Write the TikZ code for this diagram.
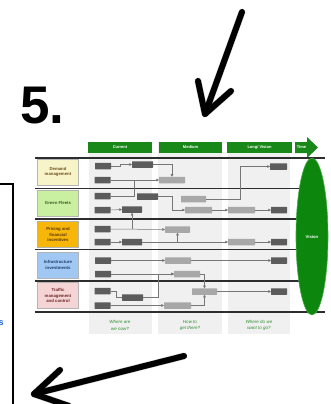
\documentclass[tikz,border=0pt]{standalone}
\usepackage{fontspec}
\setmainfont{Liberation Sans}
\usetikzlibrary{arrows.meta,calc,shapes.geometric}

\definecolor{hdrgreen}{RGB}{24,136,24}
\definecolor{visgreen}{RGB}{12,134,12}
\definecolor{visedge}{RGB}{70,170,70}
\definecolor{darkbox}{RGB}{92,92,92}
\definecolor{lightbox}{RGB}{168,168,168}
\definecolor{linegray}{RGB}{118,118,118}
\definecolor{sepgray}{RGB}{45,45,45}
\definecolor{bandgray}{RGB}{240,240,240}
\definecolor{qgreen}{RGB}{40,140,40}
\definecolor{lblborder}{RGB}{180,180,180}
\definecolor{rowyellow}{RGB}{248,244,202}
\definecolor{rowgreen}{RGB}{200,240,160}
\definecolor{roworange}{RGB}{246,182,10}
\definecolor{rowblue}{RGB}{160,200,242}
\definecolor{rowpink}{RGB}{244,212,212}
\definecolor{txtbrown}{RGB}{110,78,30}
\definecolor{txtgreen}{RGB}{60,95,40}
\definecolor{txtorange}{RGB}{95,55,0}
\definecolor{txtblue}{RGB}{30,60,110}
\definecolor{txtred}{RGB}{110,40,40}
\definecolor{sblue}{RGB}{35,100,205}

\tikzset{
  dk/.style={fill=darkbox, draw=none, minimum height=6.5pt, inner sep=0pt, outer sep=0pt, rounded corners=0.4pt},
  lt/.style={fill=lightbox, draw=none, minimum height=6.5pt, inner sep=0pt, outer sep=0pt, rounded corners=0.4pt},
  conn/.style={draw=linegray, line width=0.5pt},
  arr/.style={conn, -{Triangle[length=2.6pt,width=2.6pt]}},
  sepline/.style={draw=sepgray, line width=1.4pt},
  rowlbl/.style={draw=lblborder, line width=0.6pt, minimum width=41pt, minimum height=26pt,
    inner sep=0pt, align=center, font=\fontsize{4.3}{5.2}\selectfont\bfseries},
  hdr/.style={fill=hdrgreen, minimum width=64pt, minimum height=11pt, inner sep=0pt,
    text=white, font=\fontsize{4}{5}\selectfont\bfseries},
  band/.style={fill=bandgray, draw=none},
  question/.style={text=qgreen, align=center, font=\fontsize{4.5}{6.6}\selectfont\itshape},
  bigarrow/.style={line width=6pt, line cap=round, line join=round, draw=black},
  bigshadow/.style={line width=7pt, line cap=round, line join=round, draw=black, opacity=0.18}
}

\begin{document}
\begin{tikzpicture}[x=1pt, y=-1pt]
\useasboundingbox (0,0) rectangle (331,404);

% column bands
\path[band] (89,142) rectangle (152,334);
\path[band] (158,142) rectangle (222,334);
\path[band] (228,142) rectangle (290,334);

% column headers and the time arrow
\node[hdr] (hcur) at (120,147.5) {Current};
\node[hdr, minimum width=63pt] (hmed) at (190.5,147.5) {Medium};
\node[hdr, minimum width=65pt] (hlong) at (259.5,147.5) {Long/ Vision};
\path[fill=hdrgreen] (295,142) -- (307,142) -- (307,137) -- (318,147.5) -- (307,158) -- (307,153) -- (295,153) -- cycle;
\node[text=white, font=\fontsize{4}{5}\selectfont\bfseries, inner sep=0pt] (htime) at (301.5,147.5) {Time};

% row separators
\draw[sepline] (35,158) -- (325,158);
\draw[sepline] (35,188.5) -- (300,188.5);
\draw[sepline] (35,219) -- (300,219);
\draw[sepline] (35,249.5) -- (300,249.5);
\draw[sepline] (35,281) -- (300,281);
\draw[sepline] (35,312) -- (325,312);

% row labels
\node[rowlbl, fill=rowyellow, text=txtbrown] (r1) at (58,172) {Demand\\management};
\node[rowlbl, fill=rowgreen, text=txtgreen] (r2) at (58,203) {Green Fleets};
\node[rowlbl, fill=roworange, text=txtorange] (r3) at (58,234.5) {Pricing and\\financial\\incentives};
\node[rowlbl, fill=rowblue, text=txtblue] (r4) at (58,265) {Infrastructure\\investments};
\node[rowlbl, fill=rowpink, text=txtred] (r5) at (58,295.5) {Traffic\\management\\and control};

% row 1
\node[dk, minimum width=16pt] (A1) at (103,166) {};
\node[dk, minimum width=21pt] (A2) at (142.5,164.5) {};
\node[dk, minimum width=16pt] (A3) at (102.5,180) {};
\node[lt, minimum width=26pt] (B1) at (172,180) {};
\node[dk, minimum width=17pt] (C1) at (278.5,166.5) {};
% row 2
\node[dk, minimum width=16pt] (A4) at (102.5,196) {};
\node[dk, minimum width=21pt] (A5) at (147.5,196.5) {};
\node[lt, minimum width=25pt] (B2) at (193.5,199) {};
\node[dk, minimum width=16pt] (A6) at (102.5,210) {};
\node[dk, minimum width=20pt] (A7) at (132,209.5) {};
\node[lt, minimum width=27pt] (B3) at (198.5,210) {};
\node[lt, minimum width=27pt] (C2) at (241.5,210) {};
\node[dk, minimum width=16pt] (C3) at (279,210) {};
% row 3
\node[dk, minimum width=16pt] (A10) at (102.5,229) {};
\node[lt, minimum width=25pt] (B4) at (177.5,229.5) {};
\node[dk, minimum width=16pt] (A8) at (102.5,242) {};
\node[dk, minimum width=20pt] (A9) at (132,242) {};
\node[lt, minimum width=27pt] (C4) at (241.5,242) {};
\node[dk, minimum width=16pt] (C5) at (279,242) {};
% row 4
\node[dk, minimum width=16pt] (A11) at (103,260.5) {};
\node[lt, minimum width=26pt] (B5) at (178,260.5) {};
\node[dk, minimum width=16pt] (C6) at (279,260.5) {};
\node[dk, minimum width=16pt] (A12) at (103,274) {};
\node[lt, minimum width=26pt] (B6) at (187,274) {};
% row 5
\node[dk, minimum width=16pt] (A15) at (102.5,291) {};
\node[dk, minimum width=21pt] (A13) at (132.5,297.5) {};
\node[lt, minimum width=25pt] (B8) at (204.5,291.5) {};
\node[dk, minimum width=16pt] (C7) at (279,291.5) {};
\node[dk, minimum width=16pt] (A14) at (102.5,305.5) {};
\node[lt, minimum width=27pt] (B7) at (177.5,305.5) {};

% junction points
\coordinate (j1) at (134,180);

% connectors
\draw[arr] (A1.east) -- ++(9,0) |- (A2.west);
\draw[arr] (A2.east) -| (B1.north);
\draw[arr] (A3.east) -- (B1.west);
\draw[conn] (A4.east) -| (j1);
\draw[arr] (A5.east) -- ++(14,0) |- (B3.west);
\draw[arr] (B2.east) -- ++(34,0) |- (C1.west);
\draw[arr] (A6.east) -- (A7.west);
\draw[arr] (B3.east) -- (C2.west);
\draw[arr] (C2.east) -- (C3.west);
\draw[arr] (A10.east) -- (B4.west);
\draw[arr] (A7.south |- A10.east) -- (A7.south);
\draw[arr] (A8.east) -- (A9.west);
\draw[arr] (A9.east) -- (C4.west);
\draw[arr] (B4.south |- A9.east) -- (B4.south);
\draw[arr] (C4.east) -- (C5.west);
\draw[arr] (A11.east) -- (B5.west);
\draw[arr] (B5.east) -- (C6.west);
\draw[arr] (A12.east) -- (B6.west);
\draw[conn] (A15.east) -- ++(6,0) |- (A13.west);
\draw[arr] (A13.east) -- ++(15,0) |- (B6.west);
\draw[arr] (A14.east) -- (B7.west);
\draw[arr] (B6.east) -| (B8.north);
\draw[arr] (B7.east) -| (B8.south);
\draw[arr] (B8.east) -- (C7.west);

% vision
\node[ellipse, fill=visgreen, draw=visedge, line width=0.6pt, minimum width=32pt, minimum height=157pt, inner sep=0pt] (vis) at (312,236.5) {};
\node[text=white, font=\fontsize{4.2}{5}\selectfont\bfseries, inner sep=0pt] at (vis.center) {Vision};

% questions under the columns
\node[question] (q1) at (120,325.5) {Where are\\we now?};
\node[question] (q2) at (190,325.5) {How to\\get there?};
\node[question] (q3) at (259,325.5) {Where do we\\want to go?};

% step number
\node[anchor=base west, inner sep=0pt, font=\fontsize{53}{53}\selectfont\bfseries] (num) at (20,123) {5.};

% pointer arrows
\coordinate (t0) at (242,12);
\coordinate (t1) at (205,114);
\coordinate (t2) at (198,81);
\coordinate (t3) at (231,91);
\coordinate (b0) at (184,356);
\coordinate (b1) at (34,394);
\coordinate (b2) at (60,370);
\coordinate (b3) at (69,406);
\begin{scope}[shift={(1.5,1.5)}]
  \draw[bigshadow] (t0) -- (t1);
  \draw[bigshadow] (t2) -- (t1) -- (t3);
  \draw[bigshadow] (b0) -- (b1);
  \draw[bigshadow] (b2) -- (b1) -- (b3);
\end{scope}
\draw[bigarrow] (t0) -- (t1);
\draw[bigarrow] (t2) -- (t1) -- (t3);
\draw[bigarrow] (b0) -- (b1);
\draw[bigarrow] (b2) -- (b1) -- (b3);

% frame at the left edge
\draw[line width=1.4pt] (-2,184) -- (13,184) -- (13,406);
\node[text=sblue, font=\fontsize{9}{9}\selectfont\bfseries, inner sep=0pt] (sfrag) at (1.2,323.5) {s};
\end{tikzpicture}
\end{document}
